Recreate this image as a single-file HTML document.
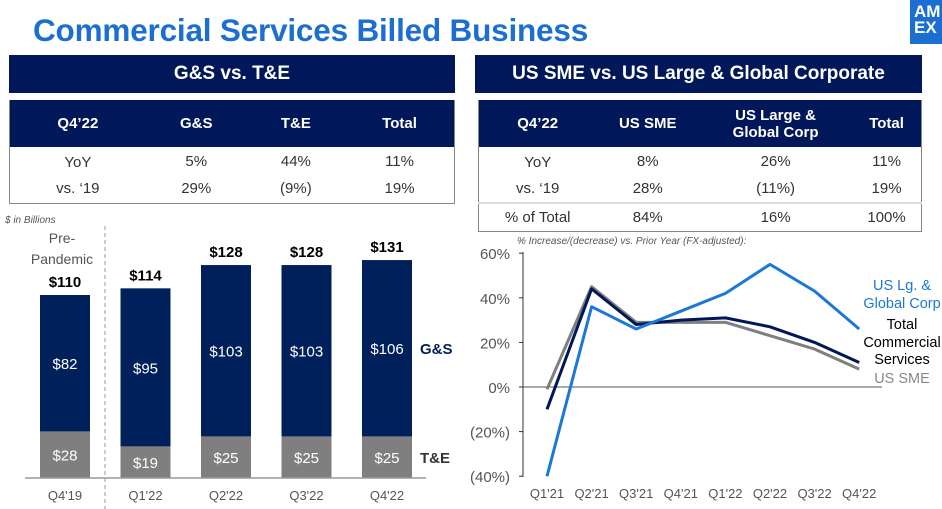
<!DOCTYPE html>
<html><head><meta charset="utf-8"><style>
*{margin:0;padding:0;box-sizing:border-box}
body{width:942px;height:509px;overflow:hidden;background:#fff;font-family:"Liberation Sans",Arial,sans-serif;position:relative}
.abs{position:absolute}
.banner{background:#00175a;color:#fff;font-weight:bold;font-size:19px;text-align:center;line-height:38px;height:38px;top:55px}
table{border-collapse:collapse;position:absolute;font-size:15px;color:#333;border:1.5px solid #888;border-top:none}
th{background:#00175a;color:#fff;font-size:15px;font-weight:bold;height:47px;line-height:17px}
td{text-align:center;height:28px}
</style></head><body>
<div class="abs" style="left:33px;top:12px;font-size:31.5px;font-weight:bold;color:#1c6fd1;letter-spacing:-0.2px">Commercial Services Billed Business</div>
<div class="abs" style="left:910px;top:0;width:32px;height:44px;background:#1c6fd1;color:#fff;font-weight:bold;font-size:17px;line-height:16px;padding:4px 0 0 4px">AM<br>EX</div>
<div class="abs banner" style="left:9px;width:446px">G&amp;S vs. T&amp;E</div>
<div class="abs banner" style="left:475px;width:447px">US SME vs. US Large &amp; Global Corporate</div>
<table style="left:9px;top:100px;width:446px">
<tr><th>Q4’22</th><th>G&amp;S</th><th>T&amp;E</th><th>Total</th></tr>
<tr><td style="padding-top:2px">YoY</td><td>5%</td><td>44%</td><td>11%</td></tr>
<tr><td>vs. ‘19</td><td>29%</td><td>(9%)</td><td>19%</td></tr>
</table>
<table style="left:478px;top:100px;width:444px">
<tr><th>Q4’22</th><th>US SME</th><th>US Large &amp;<br>Global Corp</th><th>Total</th></tr>
<tr><td style="padding-top:2px">YoY</td><td>8%</td><td>26%</td><td>11%</td></tr>
<tr><td>vs. ‘19</td><td>28%</td><td>(11%)</td><td>19%</td></tr>
<tr style="border-top:2px solid #ddd"><td>% of Total</td><td>84%</td><td>16%</td><td>100%</td></tr>
</table>
<svg class="abs" style="left:0;top:0" width="942" height="509" id="svg"></svg>
<script>
const barCats=["Q4'19","Q1'22","Q2'22","Q3'22","Q4'22"];
const gsVals=[82,95,103,103,106];
const teVals=[28,19,25,25,25];
const totalVals=[110,114,128,128,131];
const lineCats=["Q1'21","Q2'21","Q3'21","Q4'21","Q1'22","Q2'22","Q3'22","Q4'22"];
const corpVals=[-40,36,26,34,42,55,43,26];
const totalLine=[-10,44,28,30,31,27,20,11];
const smeVals=[-1,45,29,29,29,23,17,8];
const yTicks=[60,40,20,0,-20,-40];
const NS="http://www.w3.org/2000/svg";
const svg=document.getElementById('svg');
function mk(t,a,txt){const e=document.createElementNS(NS,t);for(const k in a)e.setAttribute(k,a[k]);if(txt!==undefined)e.textContent=txt;svg.appendChild(e);return e;}
const base=478,k=183/110;
const bx=i=>40+i*80.5;const bw=50;
const by=v=>base-v*k;
let t=mk('text',{x:5,y:223,'font-size':10,'font-style':'italic',fill:'#555'},'$ in Billions');

t=mk('line',{x1:105,y1:226,x2:105,y2:509,stroke:'#999','stroke-dasharray':'4,3'});

t=mk('text',{x:62,y:243,'text-anchor':'middle','font-size':14,fill:'#555'},'Pre-');

t=mk('text',{x:62,y:264,'text-anchor':'middle','font-size':14,fill:'#555'},'Pandemic');

barCats.forEach((c,i)=>{
  const x=bx(i),cx=x+bw/2;
  let r=mk('rect',{x:x,y:by(teVals[i]),width:bw,height:teVals[i]*k,fill:'#7f7f7f'});
  
  r=mk('rect',{x:x,y:by(teVals[i]+gsVals[i]),width:bw,height:gsVals[i]*k,fill:'#00205b'});
  
  let l=mk('text',{x:cx,y:by(teVals[i]/2)+6,'text-anchor':'middle','font-size':15,fill:'#fff'},'$'+teVals[i]);
  
  l=mk('text',{x:cx,y:by(teVals[i]+gsVals[i]/2)+6,'text-anchor':'middle','font-size':15,fill:'#fff'},'$'+gsVals[i]);
  
  l=mk('text',{x:cx,y:by(totalVals[i])-8,'text-anchor':'middle','font-size':15,'font-weight':'bold',fill:'#000'},'$'+totalVals[i]);
  
  l=mk('text',{x:cx,y:500,'text-anchor':'middle','font-size':13,fill:'#555'},c);
  
});
t=mk('line',{x1:25,y1:base,x2:426,y2:base,stroke:'#999','stroke-width':1.5});

t=mk('text',{x:420,y:354,'font-size':15,'font-weight':'bold',fill:'#00205b'},'G&S');

t=mk('text',{x:420,y:463,'font-size':15,'font-weight':'bold',fill:'#333'},'T&E');

const lx=i=>547+i*44.6;
const ly=v=>387-v*2.23;
t=mk('text',{x:517,y:244,'font-size':10,'font-style':'italic',fill:'#555'},'% Increase/(decrease) vs. Prior Year (FX-adjusted):');

t=mk('line',{x1:523,y1:252,x2:523,y2:477,stroke:'#333'});

yTicks.forEach(v=>{
  let e=mk('line',{x1:519,y1:ly(v),x2:523,y2:ly(v),stroke:'#333'});
  
  e=mk('text',{x:510,y:ly(v)+6,'text-anchor':'end','font-size':15,fill:'#555'},v<0?'('+(-v)+'%)':v+'%');
  
});
t=mk('line',{x1:523,y1:ly(0),x2:882,y2:ly(0),stroke:'#555'});

lineCats.forEach((c,i)=>{
  const e=mk('text',{x:lx(i),y:498,'text-anchor':'middle','font-size':13,fill:'#555'},c);
  
});
function line(vals,col,name){
  const e=mk('polyline',{points:vals.map((v,i)=>lx(i)+','+ly(v)).join(' '),fill:'none',stroke:col,'stroke-width':3,'stroke-linejoin':'round'});
  
}
line(smeVals,'#7f7f7f','line-us-sme');
line(totalLine,'#00175a','line-total-commercial');
line(corpVals,'#1c78d6','line-us-large-global');
const leg=[["US Lg. &",290,'#1c78d6'],["Global Corp",308,'#1c78d6'],["Total",329,'#000'],["Commercial",347,'#000'],["Services",364,'#000'],["US SME",383,'#888']];
leg.forEach(a=>{
  const e=mk('text',{x:902,y:a[1],'text-anchor':'middle','font-size':14.5,fill:a[2]},a[0]);
  
});
</script>
</body></html>
